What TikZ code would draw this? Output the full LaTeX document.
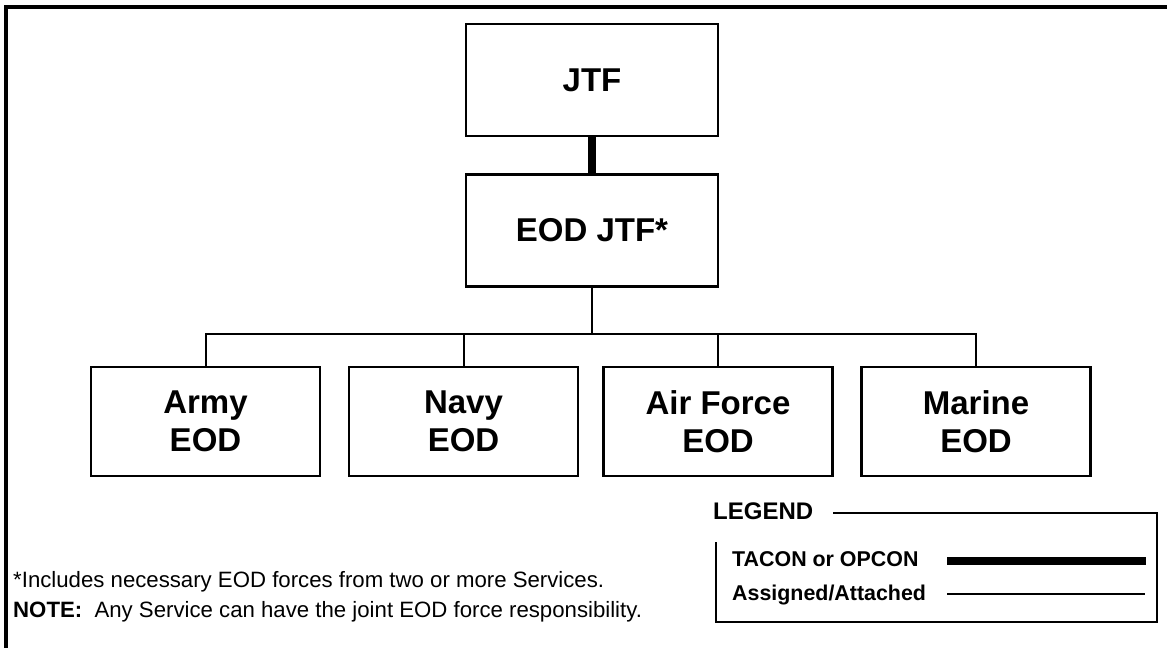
\documentclass[tikz,border=0pt]{standalone}
\usepackage{fontspec}
\setmainfont{Liberation Sans}
\begin{document}
\begin{tikzpicture}[x=1pt,y=-1pt,
  orgbox/.style={draw, line width=2.5pt, inner sep=0pt, align=center,
    font=\bfseries\fontsize{33}{38}\selectfont},
  topbox/.style={orgbox, minimum width=252pt, minimum height=112pt},
  svcbox/.style={orgbox, minimum width=229pt, minimum height=109pt},
  thinlink/.style={line width=2pt},
  thicklink/.style={line width=8.5pt},
  frameline/.style={line width=4pt},
  legframe/.style={line width=2.5pt},
  legtext/.style={font=\bfseries\fontsize{21.4}{25}\selectfont, inner sep=0pt},
  legtitle/.style={font=\bfseries\fontsize{24}{28}\selectfont, inner sep=0pt},
  notetext/.style={font=\fontsize{22.2}{26}\selectfont, inner sep=0pt}]
\useasboundingbox (0,0) rectangle (1167,648);
% outer frame (top and left)
\coordinate (ftr) at (1167,7);
\coordinate (ftl) at (6,7);
\coordinate (fbl) at (6,648);
\draw[frameline] (ftr) -- (ftl) -- (fbl);
% boxes
\node[topbox] (jtf) at (592,80) {JTF};
\node[topbox] (eod) at (592,230.5) {EOD JTF*};
\node[svcbox] (army) at (205.5,421.5) {Army\\EOD};
\node[svcbox] (navy) at (463.5,421.5) {Navy\\EOD};
\node[svcbox] (af) at (718,421.5) {Air Force\\EOD};
\node[svcbox] (marine) at (976,421.5) {Marine\\EOD};
% connectors
\draw[thicklink] (jtf.south) -- (eod.north);
\coordinate (bar) at (592,334);
\draw[thinlink] (eod.south) -- (bar);
\draw[thinlink] (army.north) |- (bar) -| (marine.north);
\draw[thinlink] (navy.north) -- (navy.north |- bar);
\draw[thinlink] (af.north) -- (af.north |- bar);
% legend
\node[legtitle, anchor=west] (legend) at (713,511) {LEGEND};
\coordinate (ltl) at (833,513);
\coordinate (ltr) at (1157,513);
\coordinate (lbr) at (1157,622);
\coordinate (lbl) at (716,622);
\coordinate (lml) at (716,542);
\draw[legframe] (ltl) -- (ltr) -- (lbr) -- (lbl) -- (lml);
\node[legtext, anchor=west] (tacon) at (732,559) {TACON or OPCON};
\coordinate (tac1) at (947,561);
\coordinate (tac2) at (1146,561);
\draw[thicklink] (tac1) -- (tac2);
\node[legtext, anchor=west] (assig) at (732,595) {Assigned/Attached};
\coordinate (as1) at (947,594);
\coordinate (as2) at (1145,594);
\draw[thinlink] (as1) -- (as2);
% notes
\node[notetext, anchor=west] (note1) at (13,582) {*Includes necessary EOD forces from two or more Services.};
\node[notetext, anchor=west] (note2) at (13,612) {\textbf{NOTE:}\ \ Any Service can have the joint EOD force responsibility.};
\end{tikzpicture}
\end{document}
